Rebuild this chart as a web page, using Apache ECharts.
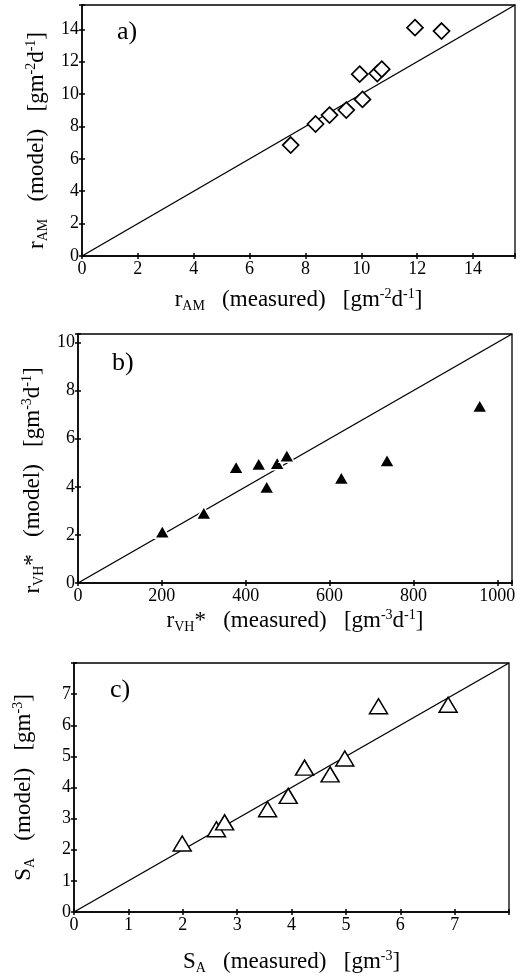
<!DOCTYPE html>
<html><head><meta charset="utf-8">
<script src="https://cdn.jsdelivr.net/npm/echarts@6/dist/echarts.min.js"></script>
<style>html,body{margin:0;padding:0;background:#fff}#c{width:523px;height:977px}</style>
</head><body><div id="c"></div>
<script>
// ---- data ----
const rAM_measured = [7.47, 8.36, 8.86, 9.46, 10.04, 9.94, 10.57, 10.73, 11.92, 12.87];
const rAM_model    = [6.85, 8.15, 8.70, 9.01, 9.67, 11.23, 11.27, 11.54, 14.10, 13.89];
const rVH_measured = [201, 300, 377, 431, 450, 475, 498, 628, 737, 958];
const rVH_model    = [2.13, 2.91, 4.81, 4.95, 3.99, 4.98, 5.29, 4.37, 5.09, 7.36];
const SA_measured  = [1.99, 2.62, 2.77, 3.56, 3.94, 4.24, 4.71, 4.98, 5.60, 6.88];
const SA_model     = [2.20, 2.66, 2.88, 3.30, 3.73, 4.64, 4.42, 4.93, 6.61, 6.66];
// 1:1 reference lines (start, end) for each panel
const lineA_x = [0, 15.5], lineA_y = [0, 15.5];
const lineB_x = [0, 1035], lineB_y = [0, 10.35];
const lineC_x = [0, 8],    lineC_y = [0, 8];
// axis extents and tick intervals
const axisMaxX = [15.5, 1035, 8];
const axisMaxY = [15.5, 10.35, 8];
const tickIntX = [2, 200, 1];
const tickIntY = [2, 2, 1];
const panelLabels = ['a)', 'b)', 'c)'];

const FONT = 'Liberation Serif';
const zip = (a, b) => a.map((v, i) => [v, b[i]]);

const grids = [
  {left: 82, top: 5,   width: 433, height: 251},
  {left: 78, top: 334, width: 434, height: 249},
  {left: 74, top: 663, width: 435, height: 249}
];

const rich = {
  t:   {fontFamily: FONT, fontSize: 23, color: '#000', lineHeight: 26, verticalAlign: 'middle'},
  sub: {fontFamily: FONT, fontSize: 14, color: '#000', lineHeight: 13, verticalAlign: 'bottom'},
  sup: {fontFamily: FONT, fontSize: 14, color: '#000', lineHeight: 13, verticalAlign: 'top'}
};

const SP = '   ';
const xNames = [
  '{t|r}{sub|AM}{t|' + SP + '(measured)' + SP + '[gm}{sup|-2}{t|d}{sup|-1}{t|]}',
  '{t|r}{sub|VH}{t|*' + SP + '(measured)' + SP + '[gm}{sup|-3}{t|d}{sup|-1}{t|]}',
  '{t|S}{sub|A}{t|' + SP + '(measured)' + SP + '[gm}{sup|-3}{t|]}'
];
const yNames = [
  '{t|r}{sub|AM}{t|' + SP + '(model)' + SP + '[gm}{sup|-2}{t|d}{sup|-1}{t|]}',
  '{t|r}{sub|VH}{t|*' + SP + '(model)' + SP + '[gm}{sup|-3}{t|d}{sup|-1}{t|]}',
  '{t|S}{sub|A}{t|' + SP + '(model)' + SP + '[gm}{sup|-3}{t|]}'
];
const xGap = [31, 25, 37];
const yGap = [32, 30, 37];
const yPad = [[0, 20, 0, 0], [0, 44, 0, 0], [0, 0, 0, 0]];

const labelStyle = {fontFamily: FONT, fontSize: 18, color: '#000'};
const xAxes = [], yAxes = [], allGrids = [];
for (let i = 0; i < 3; i++) {
  allGrids.push(Object.assign({show: true, borderColor: '#000', borderWidth: 1.3, backgroundColor: 'transparent'}, grids[i]));
}
for (let i = 0; i < 3; i++) {
  allGrids.push(Object.assign({show: false}, grids[i]));
}
for (let i = 0; i < 3; i++) {
  const fx = (v) => (Math.abs(v / tickIntX[i] - Math.round(v / tickIntX[i])) < 1e-6 && v < axisMaxX[i] - 1e-6) ? String(v) : '';
  const fy = (v) => (Math.abs(v / tickIntY[i] - Math.round(v / tickIntY[i])) < 1e-6 && v < axisMaxY[i] - 1e-6) ? String(v) : '';
  xAxes.push({
    type: 'value', gridIndex: i, min: 0, max: axisMaxX[i], interval: tickIntX[i],
    axisLine: {show: true, onZero: false, lineStyle: {color: '#000', width: 1.5}},
    axisTick: {show: true, length: 3, lineStyle: {color: '#000', width: 1.5}},
    axisLabel: {show: true, margin: 4, formatter: fx, ...labelStyle},
    splitLine: {show: false},
    name: xNames[i], nameLocation: 'middle', nameGap: xGap[i],
    nameTextStyle: {rich: rich}
  });
  yAxes.push({
    type: 'value', gridIndex: i, min: 0, max: axisMaxY[i], interval: tickIntY[i],
    axisLine: {show: true, onZero: false, lineStyle: {color: '#000', width: 1.5}},
    axisTick: {show: true, length: 3, lineStyle: {color: '#000', width: 1.5}},
    axisLabel: {show: true, margin: 3, formatter: fy, ...labelStyle},
    splitLine: {show: false},
    name: yNames[i], nameLocation: 'middle', nameGap: yGap[i], nameRotate: 90,
    nameTextStyle: {rich: rich, padding: yPad[i]}
  });
}
// overlay axes giving the inward half of each crossing tick
for (let i = 0; i < 3; i++) {
  xAxes.push({
    type: 'value', gridIndex: i + 3, min: 0, max: axisMaxX[i], interval: tickIntX[i],
    axisLine: {show: false}, axisLabel: {show: false}, splitLine: {show: false},
    axisTick: {show: true, inside: true, length: 3, lineStyle: {color: '#000', width: 1.5}}
  });
  yAxes.push({
    type: 'value', gridIndex: i + 3, min: 0, max: axisMaxY[i], interval: tickIntY[i],
    axisLine: {show: false}, axisLabel: {show: false}, splitLine: {show: false},
    axisTick: {show: true, inside: true, length: 3, lineStyle: {color: '#000', width: 1.5}}
  });
}

const lineSeries = (i, xs, ys) => ({
  type: 'line', xAxisIndex: i, yAxisIndex: i, data: zip(xs, ys),
  symbol: 'none', silent: true, z: 2,
  lineStyle: {color: '#000', width: 1.4}
});

const series = [
  lineSeries(0, lineA_x, lineA_y),
  lineSeries(1, lineB_x, lineB_y),
  lineSeries(2, lineC_x, lineC_y),
  {type: 'scatter', xAxisIndex: 0, yAxisIndex: 0, data: zip(rAM_measured, rAM_model), z: 3,
   symbol: 'diamond', symbolSize: [16, 16],
   itemStyle: {color: '#fff', borderColor: '#000', borderWidth: 1.7, opacity: 1}},
  {type: 'scatter', xAxisIndex: 1, yAxisIndex: 1, data: zip(rVH_measured, rVH_model), z: 3,
   symbol: 'triangle', symbolSize: [15, 13],
   itemStyle: {color: '#000', borderColor: '#fff', borderWidth: 1.5, opacity: 1}},
  {type: 'scatter', xAxisIndex: 2, yAxisIndex: 2, data: zip(SA_measured, SA_model), z: 3,
   symbol: 'triangle', symbolSize: [18, 15],
   itemStyle: {color: '#fff', borderColor: '#000', borderWidth: 1.5, opacity: 1}}
];

const labelPos = [[117, 19], [112, 350], [110, 677]];
const graphic = panelLabels.map((t, i) => ({
  type: 'text', left: labelPos[i][0], top: labelPos[i][1], z: 10,
  style: {text: t, font: '26px "' + FONT + '"', fill: '#000'}
}));

const chart = echarts.init(document.getElementById('c'), null, {renderer: 'canvas'});
chart.setOption({
  animation: false,
  backgroundColor: '#fff',
  grid: allGrids,
  xAxis: xAxes,
  yAxis: yAxes,
  series: series,
  graphic: graphic
});
</script>
</body></html>
